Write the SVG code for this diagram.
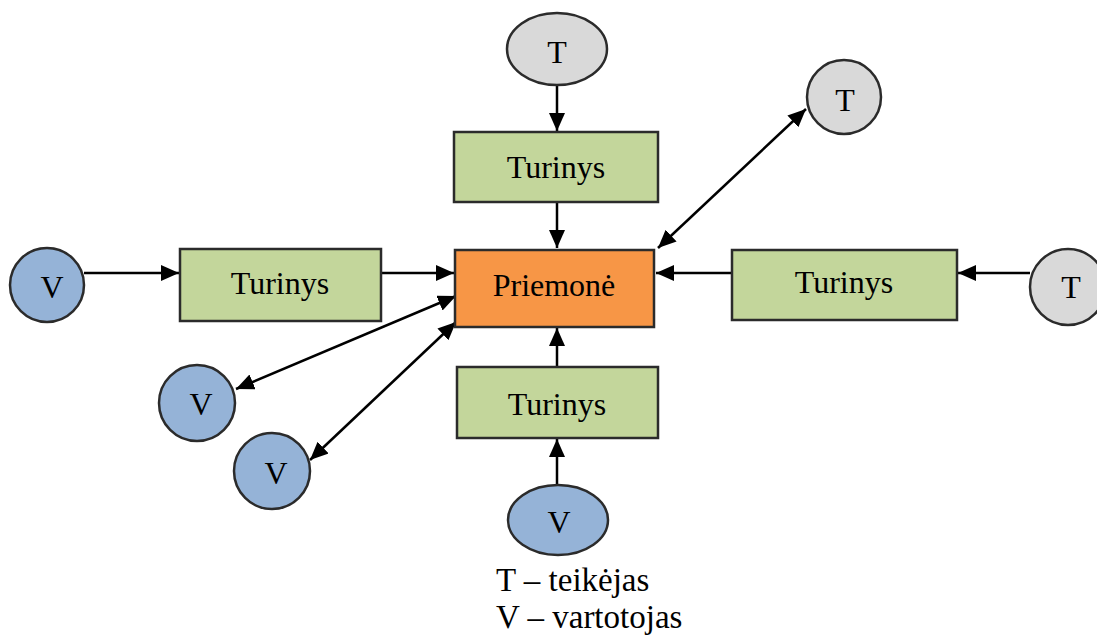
<svg xmlns="http://www.w3.org/2000/svg" width="1097" height="635" viewBox="0 0 1097 635">
<style>
.t{font-family:"Liberation Serif","Times New Roman","DejaVu Serif",serif;font-size:32px;fill:#000;text-anchor:middle}
.lg{font-family:"Liberation Serif","Times New Roman","DejaVu Serif",serif;font-size:33px;fill:#000}
.box{stroke:#2b2b2b;stroke-width:2.5}
.g{fill:#c3d69b}
.o{fill:#f79646}
.ct{fill:#d9d9d9;stroke:#2b2b2b;stroke-width:2.5}
.cv{fill:#95b3d7;stroke:#2b2b2b;stroke-width:2.5}
.ln{stroke:#000;stroke-width:2.5;fill:none}
</style>
<defs>
<marker id="ah" markerUnits="userSpaceOnUse" markerWidth="20" markerHeight="18" refX="18" refY="8" orient="auto-start-reverse">
<path d="M0,0 L18,8 L0,16 z" fill="#000"/>
</marker>
</defs>
<g id="connectors">
<line class="ln" x1="557" y1="85" x2="557" y2="131" marker-end="url(#ah)"/>
<line class="ln" x1="557" y1="202" x2="557" y2="248" marker-end="url(#ah)"/>
<line class="ln" x1="84" y1="273" x2="179" y2="273" marker-end="url(#ah)"/>
<line class="ln" x1="381" y1="273" x2="454" y2="273" marker-end="url(#ah)"/>
<line class="ln" x1="1030" y1="273" x2="958" y2="273" marker-end="url(#ah)"/>
<line class="ln" x1="732" y1="273" x2="656" y2="273" marker-end="url(#ah)"/>
<line class="ln" x1="557" y1="485" x2="557" y2="439" marker-end="url(#ah)"/>
<line class="ln" x1="557" y1="367" x2="557" y2="328" marker-end="url(#ah)"/>
<line class="ln" x1="658" y1="248" x2="806" y2="109" marker-start="url(#ah)" marker-end="url(#ah)"/>
<line class="ln" x1="456" y1="296" x2="236" y2="389" marker-start="url(#ah)" marker-end="url(#ah)"/>
<line class="ln" x1="456" y1="322" x2="310" y2="460" marker-start="url(#ah)" marker-end="url(#ah)"/>
</g>
<g id="priemone">
<rect class="box o" x="455" y="250" width="199" height="77"/>
<text class="t" x="554" y="296">Priemonė</text>
</g>
<g id="turinys-top">
<rect class="box g" x="454" y="132" width="204" height="70"/>
<text class="t" x="556" y="178">Turinys</text>
</g>
<g id="turinys-left">
<rect class="box g" x="180" y="249" width="201" height="72"/>
<text class="t" x="280" y="294">Turinys</text>
</g>
<g id="turinys-right">
<rect class="box g" x="732" y="250" width="225" height="70"/>
<text class="t" x="844" y="293">Turinys</text>
</g>
<g id="turinys-bottom">
<rect class="box g" x="457" y="367" width="201" height="71"/>
<text class="t" x="557" y="415">Turinys</text>
</g>
<g id="t-top">
<ellipse class="ct" cx="557" cy="49" rx="50" ry="36"/>
<text class="t" x="557" y="63">T</text>
</g>
<g id="t-topright">
<circle class="ct" cx="844" cy="97" r="37"/>
<text class="t" x="845" y="111">T</text>
</g>
<g id="t-right">
<circle class="ct" cx="1068" cy="287" r="38"/>
<text class="t" x="1071" y="298">T</text>
</g>
<g id="v-left">
<circle class="cv" cx="47" cy="285" r="37"/>
<text class="t" x="52" y="298">V</text>
</g>
<g id="v-2">
<circle class="cv" cx="197" cy="403" r="38"/>
<text class="t" x="201" y="415">V</text>
</g>
<g id="v-3">
<circle class="cv" cx="272" cy="471" r="38"/>
<text class="t" x="276" y="484">V</text>
</g>
<g id="v-bottom">
<ellipse class="cv" cx="558" cy="520" rx="50" ry="35"/>
<text class="t" x="559" y="533">V</text>
</g>
<g id="legend">
<text class="lg" x="496" y="591">T – teikėjas</text>
<text class="lg" x="496" y="628">V – vartotojas</text>
</g>
</svg>
